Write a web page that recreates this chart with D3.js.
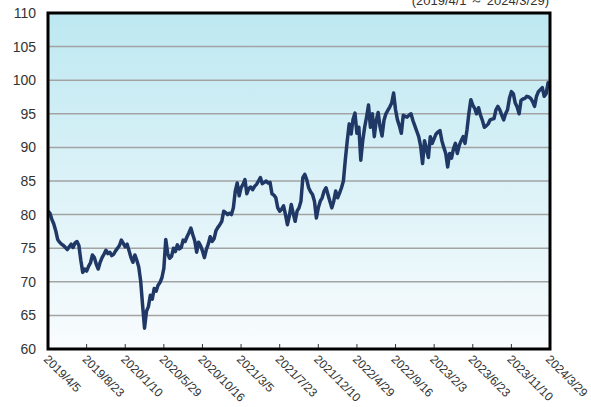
<!DOCTYPE html>
<html lang="ja">
<head>
<meta charset="utf-8">
<title>chart</title>
<script src="https://d3js.org/d3.v7.min.js"></script>
<style>
  body { margin: 0; background: #fff; }
  svg { display: block; }
  text { font-family: "Liberation Sans", Arial, sans-serif; fill: #333; }
</style>
</head>
<body>
<script>
// weekly closes, every Friday from 2019/4/5 to 2024/3/29
var startDate = "2019/4/5";
var values = [
  80.5, 80.2, 79.3, 78.6, 77.6, 76.3, 75.9, 75.6, 75.4, 75.1,
  74.8, 75.2, 75.6, 75.1, 75.8, 76.0, 75.4, 73.2, 71.4, 71.9,
  71.6, 72.3, 72.8, 74.0, 73.6, 72.6, 71.9, 72.9, 73.6, 74.1,
  74.7, 74.2, 74.4, 73.9, 74.1, 74.6, 75.0, 75.4, 76.2, 75.7,
  75.2, 75.6, 74.6, 73.6, 72.9, 74.0, 73.2, 72.2, 70.1, 66.5,
  63.1, 65.6, 66.3, 68.0, 67.4, 69.0, 68.6, 69.5, 69.9, 70.6,
  72.0, 76.3, 74.2, 73.5, 73.8, 75.0, 74.5, 75.5, 74.9, 75.1,
  76.2, 76.0, 76.7, 77.3, 78.0, 77.0, 76.1, 74.4, 75.9, 75.4,
  74.6, 73.6, 74.8, 75.6, 76.7, 76.0, 76.4, 77.6, 78.1, 78.5,
  79.0, 80.5, 80.3, 80.0, 80.2, 80.0, 81.0, 83.5, 84.7, 82.8,
  84.0, 84.5, 85.2, 83.1, 83.9, 84.1, 83.7, 84.2, 84.5, 85.0,
  85.5, 84.6, 84.8, 85.0, 84.7, 84.8, 83.1, 82.9, 82.5, 81.0,
  80.5, 80.8, 81.3, 80.0, 78.5, 79.8, 81.5, 80.2, 79.0, 80.5,
  81.0, 82.0, 85.5, 86.0, 85.2, 84.0, 83.4, 83.0, 82.0, 79.5,
  81.0, 82.0, 82.5, 83.5, 84.0, 83.0, 82.0, 81.0, 82.0, 83.5,
  82.5, 83.2, 84.0, 85.0, 88.2, 91.0, 93.5, 92.0, 94.2, 95.1,
  92.1, 93.0, 88.1, 91.0, 93.0, 94.5, 96.3, 93.0, 95.0, 91.6,
  94.0, 95.2, 93.0, 91.7, 94.0, 95.0, 95.5, 96.0, 96.6, 98.1,
  95.6, 94.1, 93.2, 92.1, 94.8, 94.6, 94.5, 94.8, 95.0, 94.0,
  93.2, 92.4, 91.6, 90.2, 87.6, 91.0, 89.8, 88.5, 91.6, 90.6,
  91.3, 92.0, 92.3, 92.5, 91.0, 90.0, 89.1, 87.1, 89.1, 88.4,
  89.8, 90.6, 89.1, 90.3, 91.0, 91.6, 90.6, 92.6, 95.1, 97.1,
  96.3, 95.8, 95.0, 95.9, 94.8, 94.0, 93.0, 93.2, 93.5, 94.1,
  94.2, 94.3, 95.6, 96.1, 95.6, 94.8, 94.1, 95.0, 95.6, 97.3,
  98.3, 98.0, 96.6, 96.0, 95.0, 97.0, 97.2, 97.3, 97.6, 97.5,
  97.3, 96.8, 96.1, 97.6, 98.3, 98.6, 98.9, 97.6, 98.0, 99.6,
  99.4
];
var xTickLabels = ["2019/4/5", "2019/8/23", "2020/1/10", "2020/5/29", "2020/10/16",
  "2021/3/5", "2021/7/23", "2021/12/10", "2022/4/29", "2022/9/16", "2023/2/3",
  "2023/6/23", "2023/11/10", "2024/3/29"];
var yTicks = [60, 65, 70, 75, 80, 85, 90, 95, 100, 105, 110];
var periodLabel = "(2019/4/1 ～ 2024/3/29)";

var w = 591, h = 407;
var margin = {top: 13, right: 41, bottom: 58, left: 48};
var iw = w - margin.left - margin.right;
var ih = h - margin.top - margin.bottom;

var parse = d3.timeParse("%Y/%m/%d");
var t0 = parse(startDate);
var data = values.map(function(v, i) {
  return {date: d3.timeDay.offset(t0, i * 7), value: v};
});

var x = d3.scaleTime()
  .domain([parse(xTickLabels[0]), parse(xTickLabels[xTickLabels.length - 1])])
  .range([0, iw]);
var y = d3.scaleLinear().domain([60, 110]).range([ih, 0]);

var svg = d3.select("body").append("svg").attr("width", w).attr("height", h);

var defs = svg.append("defs");
var grad = defs.append("linearGradient").attr("id", "bg")
  .attr("x1", 0).attr("y1", 0).attr("x2", 0).attr("y2", 1);
grad.append("stop").attr("offset", "0%").attr("stop-color", "#bde8f1");
grad.append("stop").attr("offset", "100%").attr("stop-color", "#f9fcfe");
defs.append("clipPath").attr("id", "clip")
  .append("rect").attr("width", iw).attr("height", ih);

// period note, sits at the very top edge like the original
svg.append("text")
  .attr("x", 549).attr("y", 5)
  .attr("text-anchor", "end")
  .style("font-size", "13px")
  .text(periodLabel);

var g = svg.append("g").attr("transform", "translate(" + margin.left + "," + margin.top + ")");

g.append("rect").attr("width", iw).attr("height", ih).attr("fill", "url(#bg)");

// grid lines
g.selectAll("line.grid")
  .data(yTicks.slice(1, -1))
  .enter().append("line")
  .attr("class", "grid")
  .attr("x1", 0).attr("x2", iw)
  .attr("y1", function(d) { return y(d); })
  .attr("y2", function(d) { return y(d); })
  .attr("stroke", "#a3a3a3")
  .attr("stroke-width", 1.5);

// x ticks pointing up from the bottom border
g.selectAll("line.xtick")
  .data(xTickLabels.slice(1, -1))
  .enter().append("line")
  .attr("class", "xtick")
  .attr("x1", function(d) { return x(parse(d)); })
  .attr("x2", function(d) { return x(parse(d)); })
  .attr("y1", ih).attr("y2", ih - 5)
  .attr("stroke", "#333").attr("stroke-width", 1);

var line = d3.line()
  .x(function(d) { return x(d.date); })
  .y(function(d) { return y(d.value); });

g.append("path")
  .datum(data)
  .attr("clip-path", "url(#clip)")
  .attr("d", line)
  .attr("fill", "none")
  .attr("stroke", "#1f3865")
  .attr("stroke-width", 3.5)
  .attr("stroke-linejoin", "round");

g.append("rect").attr("width", iw).attr("height", ih)
  .attr("fill", "none").attr("stroke", "#000").attr("stroke-width", 3);

// y labels
g.selectAll("text.ylab")
  .data(yTicks)
  .enter().append("text")
  .attr("class", "ylab")
  .attr("x", -12)
  .attr("y", function(d) { return y(d); })
  .attr("dy", "0.36em")
  .attr("text-anchor", "end")
  .style("font-size", "14px")
  .text(function(d) { return d; });

// x labels, rotated
g.selectAll("text.xlab")
  .data(xTickLabels)
  .enter().append("text")
  .attr("class", "xlab")
  .attr("transform", function(d) {
    return "translate(" + (x(parse(d)) - 2) + "," + (ih + 8) + ") rotate(45)";
  })
  .attr("dy", "0.35em")
  .style("font-size", "12px")
  .text(function(d) { return d; });
</script>
</body>
</html>
